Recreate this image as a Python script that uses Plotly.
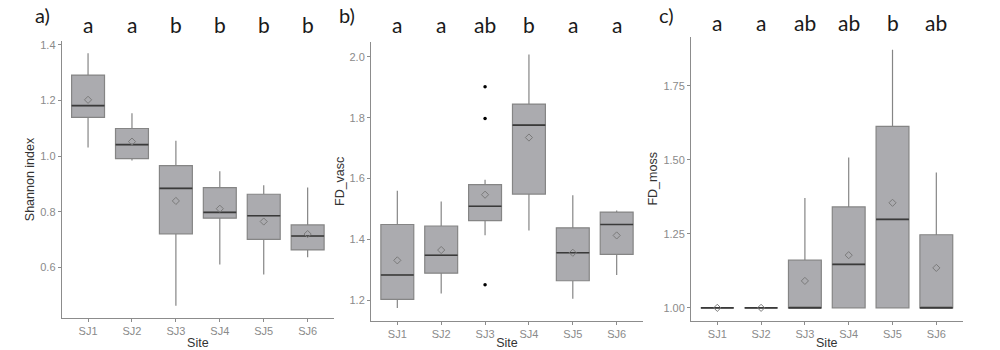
import plotly.graph_objects as go

sites = ["SJ1", "SJ2", "SJ3", "SJ4", "SJ5", "SJ6"]

# Panel a: Shannon index
a_low = [1.031, 0.984, 0.463, 0.611, 0.575, 0.637]
a_q1 = [1.139, 0.991, 0.721, 0.777, 0.701, 0.663]
a_med = [1.181, 1.041, 0.884, 0.798, 0.786, 0.713]
a_q3 = [1.291, 1.099, 0.966, 0.887, 0.863, 0.753]
a_high = [1.369, 1.154, 1.055, 0.946, 0.895, 0.887]
a_mean = [1.202, 1.052, 0.839, 0.811, 0.765, 0.720]
a_letters = ["a", "a", "b", "b", "b", "b"]

# Panel b: FD_vasc
b_low = [1.174, 1.222, 1.414, 1.429, 1.205, 1.283]
b_q1 = [1.203, 1.289, 1.462, 1.549, 1.264, 1.351]
b_med = [1.283, 1.348, 1.509, 1.776, 1.356, 1.449]
b_q3 = [1.449, 1.444, 1.580, 1.845, 1.438, 1.490]
b_high = [1.560, 1.525, 1.596, 2.008, 1.545, 1.495]
b_mean = [1.331, 1.365, 1.547, 1.735, 1.356, 1.413]
b_out_site = ["SJ3", "SJ3", "SJ3"]
b_out_val = [1.902, 1.798, 1.251]
b_letters = ["a", "a", "ab", "b", "a", "a"]

# Panel c: FD_moss
c_low = [1.0, 1.0, 1.0, 1.0, 1.0, 1.0]
c_q1 = [1.0, 1.0, 1.0, 1.0, 1.0, 1.0]
c_med = [1.0, 1.0, 1.0, 1.147, 1.299, 1.0]
c_q3 = [1.0, 1.0, 1.161, 1.341, 1.613, 1.247]
c_high = [1.0, 1.0, 1.371, 1.508, 1.872, 1.457]
c_mean = [1.0, 1.0, 1.091, 1.178, 1.355, 1.135]
c_letters = ["a", "a", "ab", "ab", "b", "ab"]

panels = [
    dict(low=a_low, q1=a_q1, med=a_med, q3=a_q3, high=a_high, mean=a_mean,
         letters=a_letters, title="Shannon index", label="a)",
         xdom=[0.0617, 0.334], ydom=[0.0914, 0.8886], yr=[0.418, 1.414],
         tv=[0.6, 0.8, 1.0, 1.2, 1.4], fmt=".1f", lx=0.042, ly=0.935),
    dict(low=b_low, q1=b_q1, med=b_med, q3=b_q3, high=b_high, mean=b_mean,
         letters=b_letters, title="FD_vasc", label="b)",
         xdom=[0.371, 0.643], ydom=[0.0837, 0.8857], yr=[1.132, 2.05],
         tv=[1.2, 1.4, 1.6, 1.8, 2.0], fmt=".1f", lx=0.347, ly=0.935),
    dict(low=c_low, q1=c_q1, med=c_med, q3=c_q3, high=c_high, mean=c_mean,
         letters=c_letters, title="FD_moss", label="c)",
         xdom=[0.691, 0.9626], ydom=[0.0837, 0.90], yr=[0.956, 1.916],
         tv=[1.0, 1.25, 1.5, 1.75], fmt=".2f", lx=0.666, ly=0.94),
]

fig = go.Figure()
box_fill = "#ababaf"
box_line = "#858585"
med_line = "#3a3a3a"
axis_col = "#8c8c8c"

annotations = []
for i, p in enumerate(panels):
    n = "" if i == 0 else str(i + 1)
    xa, ya = "x" + n, "y" + n
    fig.add_trace(go.Box(
        x=sites, q1=p["q1"], median=p["med"], q3=p["q3"],
        lowerfence=p["low"], upperfence=p["high"],
        fillcolor=box_fill, line=dict(color=box_line, width=1.2),
        whiskerwidth=0, width=0.75, boxpoints=False,
        xaxis=xa, yaxis=ya, showlegend=False, hoverinfo="skip"))
    fig.add_trace(go.Box(
        x=sites, q1=p["med"], median=p["med"], q3=p["med"],
        lowerfence=p["med"], upperfence=p["med"],
        fillcolor="rgba(0,0,0,0)", line=dict(color=med_line, width=1.6),
        whiskerwidth=0, width=0.75, boxpoints=False,
        xaxis=xa, yaxis=ya, showlegend=False, hoverinfo="skip"))
    fig.add_trace(go.Scatter(
        x=sites, y=p["mean"], mode="markers",
        marker=dict(symbol="diamond-open", size=5.5, color="#7a7a7a",
                    line=dict(width=1, color="#7a7a7a")),
        xaxis=xa, yaxis=ya, showlegend=False, hoverinfo="skip"))
    if i == 1:
        fig.add_trace(go.Scatter(
            x=b_out_site, y=b_out_val, mode="markers",
            marker=dict(symbol="circle", size=3.5, color="black"),
            xaxis=xa, yaxis=ya, showlegend=False, hoverinfo="skip"))

    fig.update_layout(**{
        ("xaxis" + n): dict(
            domain=p["xdom"], anchor=ya, type="category",
            range=[-0.6, 5.6], showline=True, linecolor=axis_col,
            linewidth=1, ticks="outside", ticklen=3, tickcolor=axis_col,
            showgrid=False, zeroline=False,
            tickfont=dict(family="Liberation Sans", size=11, color="#8a8a8a"),
            title=dict(text="Site", standoff=1,
                       font=dict(family="Liberation Sans", size=12.5, color="#333333"))),
        ("yaxis" + n): dict(
            domain=p["ydom"], anchor=xa, range=p["yr"],
            tickvals=p["tv"], tickformat=p["fmt"],
            showline=True, linecolor=axis_col, linewidth=1,
            ticks="outside", ticklen=3, tickcolor=axis_col,
            showgrid=False, zeroline=False,
            tickfont=dict(family="Liberation Sans", size=11, color="#8a8a8a"),
            title=dict(text=p["title"], standoff=2,
                       font=dict(family="Liberation Sans", size=12.5, color="#333333"))),
    })

    for s, letter in zip(sites, p["letters"]):
        annotations.append(dict(
            x=s, y=p["ly"], xref=xa, yref="paper", text=letter,
            showarrow=False, xanchor="center", yanchor="middle",
            font=dict(family="Lato", size=21, color="#1a1a1a")))
    annotations.append(dict(
        x=p["lx"], y=0.962, xref="paper", yref="paper", text=p["label"],
        showarrow=False, xanchor="center", yanchor="middle",
        font=dict(family="Lato", size=20, color="#1a1a1a")))

fig.update_layout(
    width=1000, height=350,
    margin=dict(l=0, r=0, t=0, b=0),
    paper_bgcolor="white", plot_bgcolor="white",
    annotations=annotations,
    showlegend=False,
)

fig.write_html("out.html")
